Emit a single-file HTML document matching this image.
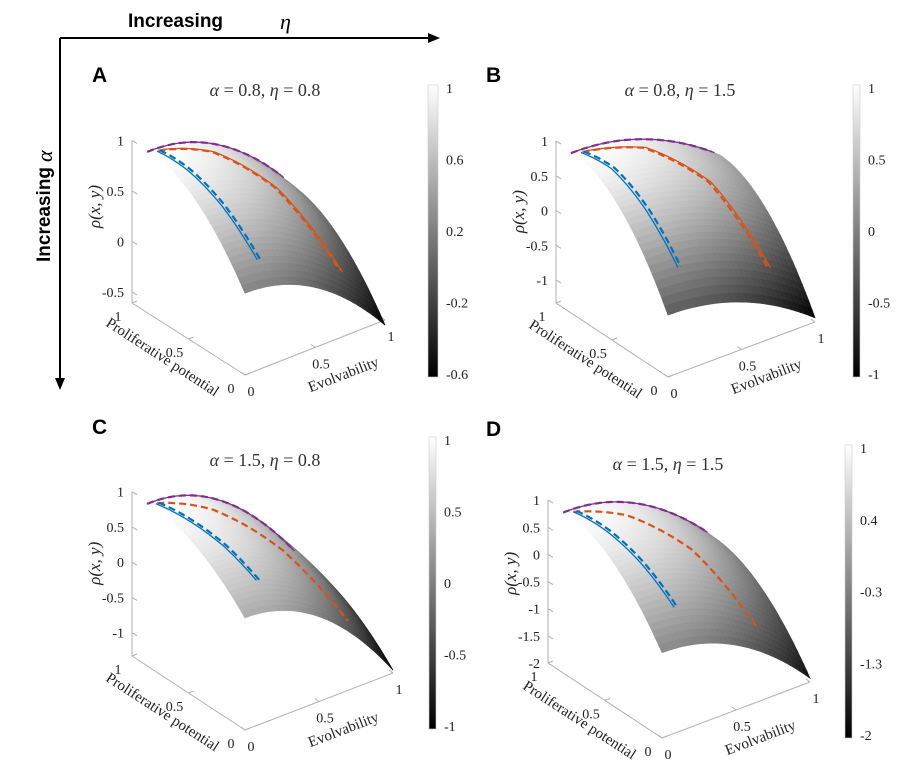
<!DOCTYPE html>
<html><head><meta charset="utf-8"><style>
body{margin:0;background:#fff;}
svg{display:block;font-family:"Liberation Serif",serif;}
</style></head><body>
<svg id="fig" width="900" height="777" viewBox="0 0 900 777">
<g>
<line x1="60" y1="38" x2="432" y2="38" stroke="#000" stroke-width="2"/>
<polygon points="440,38 428,33 428,43" fill="#000"/>
<text x="128" y="27" font-family="Liberation Sans,sans-serif" font-weight="bold" font-size="19">Increasing</text>
<text x="280" y="29" font-style="italic" font-size="22">η</text>
</g>
<g>
<line x1="60" y1="38" x2="60" y2="382" stroke="#000" stroke-width="2"/>
<polygon points="60,390 55,378 65,378" fill="#000"/>
<text transform="translate(50,262) rotate(-90)" font-family="Liberation Sans,sans-serif" font-weight="bold" font-size="19">Increasing</text>
<text transform="translate(52,162) rotate(-90)" font-style="italic" font-size="22">α</text>
</g>
</svg>
<script>
// ---- data ----
const panelLetters = ["A","B","C","D"];
const alphaVals = ["0.8","0.8","1.5","1.5"];
const etaVals = ["0.8","1.5","0.8","1.5"];
const zTicksA = [-0.5,0,0.5,1];
const zTicksB = [-1,-0.5,0,0.5,1];
const zTicksC = [-1,-0.5,0,0.5,1];
const zTicksD = [-2,-1.5,-1,-0.5,0,0.5,1];
const cbTicksA = ["1","0.6","0.2","-0.2","-0.6"];
const cbTicksB = ["1","0.5","0","-0.5","-1"];
const cbTicksC = ["1","0.5","0","-0.5","-1"];
const cbTicksD = ["1","0.4","-0.3","-1.3","-2"];
const xyTicks = [0,0.5,1];
// surface curvature (a: along evolvability, b: along proliferative)
const curvA = [0.86,0.80], curvB = [0.83,1.44], curvC = [1.55,0.74], curvD = [1.5,1.43];
// trajectories (x = evolvability, y = proliferative potential)
const purpleA = [[0,0.99],[0.3,0.99],[0.6,0.985],[0.95,0.98]];
const purpleB = [[0,0.99],[0.3,0.99],[0.6,0.985],[0.95,0.98]];
const purpleC = [[0,0.99],[0.3,0.99],[0.6,0.985],[0.97,0.98]];
const purpleD = [[0,0.99],[0.3,0.99],[0.6,0.985],[0.95,0.98]];
const blueA = [[0.03,0.96],[0.08,0.72],[0.13,0.42],[0.17,0.12]];
const blueB = [[0.03,0.96],[0.1,0.75],[0.14,0.45],[0.17,0.16]];
const blueC = [[0.02,0.96],[0.08,0.72],[0.15,0.45],[0.2,0.19]];
const blueD = [[0.03,0.96],[0.09,0.72],[0.15,0.45],[0.2,0.18]];
const orangeA = [[0.04,0.96],[0.35,0.86],[0.62,0.6],[0.78,0.15]];
const orangeB = [[0.04,0.96],[0.4,0.88],[0.66,0.6],[0.78,0.16]];
const orangeC = [[0.03,0.96],[0.3,0.8],[0.58,0.5],[0.76,0.1]];
const orangeD = [[0.03,0.96],[0.3,0.82],[0.56,0.55],[0.73,0.12]];

// ---- layout (not data) ----
const YS = 0.85;
const layout = [
 {cx:245,cy:375,ex:[140,-55],ey:[-113,-72],zs:101,zmin:-0.61,cmin:-0.66,cb:[428,85,438,377],let:[92,82],tt:[265,96],curv:curvA,zt:zTicksA,cbt:cbTicksA,pu:purpleA,bl:blueA,or:orangeA,orSolid:true},
 {cx:668,cy:377,ex:[147,-55],ey:[-112,-74],zs:69.5,zmin:-1.33,cmin:-1.27,cb:[853,85,860,377],let:[486,82],tt:[680,96],curv:curvB,zt:zTicksB,cbt:cbTicksB,pu:purpleB,bl:blueB,or:orangeB,orSolid:true},
 {cx:245,cy:730,ex:[148,-57],ey:[-113,-74],zs:70.5,zmin:-1.33,cmin:-1.29,cb:[429,437,436,729],let:[92,434],tt:[265,466],curv:curvC,zt:zTicksC,cbt:cbTicksC,pu:purpleC,bl:blueC,or:orangeC,orSolid:false},
 {cx:662,cy:738,ex:[148,-56],ey:[-114,-75],zs:54.3,zmin:-2,cmin:-2.1,cb:[845,445,852,738],let:[486,436],tt:[668,470],curv:curvD,zt:zTicksD,cbt:cbTicksD,pu:purpleD,bl:blueD,or:orangeD,orSolid:false}
];
const NS="http://www.w3.org/2000/svg";
const svg=document.getElementById('fig');
function mk(tag,attrs,parent){const e=document.createElementNS(NS,tag);for(const k in attrs)e.setAttribute(k,attrs[k]);parent.appendChild(e);return e;}
function gray(t){t=Math.max(0,Math.min(1,t));const v=Math.round(t*255);return `rgb(${v},${v},${v})`;}

layout.forEach((P,pi)=>{
 const g=mk('g',{},svg);
 
 
 const zf=(x,y)=>1-P.curv[0]*x*x-P.curv[1]*(1-y)*(1-y);
 const proj=(x,y,z)=>[P.cx+P.ex[0]*x+P.ey[0]*y, P.cy+P.ex[1]*x+P.ey[1]*y-(z-P.zmin)*P.zs];
 const sproj=(x,y,z)=>proj(x,y*YS,z);
 const col=z=>gray((z-P.cmin)/(1-P.cmin));
 // axes
 const ax=mk('g',{stroke:'#b0b0b0','stroke-width':1,fill:'none'},g);
 
 
 const c0=proj(0,0,P.zmin),c1=proj(0,1,P.zmin),c2=proj(1,0,P.zmin);
 mk('polyline',{points:`${c2} ${c0} ${c1} ${proj(0,1,P.zt[P.zt.length-1])}`},ax);
 // z ticks
 P.zt.forEach(v=>{const p=proj(0,1,v);
  mk('line',{x1:p[0],y1:p[1],x2:p[0]+5,y2:p[1]+3,stroke:'#b0b0b0'},g);
  const t=mk('text',{x:p[0]-8,y:p[1]+5,'text-anchor':'end','font-size':14,fill:'#222'},g);t.textContent=String(v);
  
  });
 xyTicks.forEach(v=>{
  const p=proj(0,v,P.zmin);mk('line',{x1:p[0],y1:p[1],x2:p[0]+5,y2:p[1]-2,stroke:'#b0b0b0'},g);
  const t=mk('text',{x:p[0]-14,y:p[1]+18,'text-anchor':'middle','font-size':14,fill:'#222'},g);t.textContent=String(v);
  
  
  const q=proj(v,0,P.zmin);mk('line',{x1:q[0],y1:q[1],x2:q[0]-4,y2:q[1]-3,stroke:'#b0b0b0'},g);
  const u=mk('text',{x:q[0]+6,y:q[1]+21,'text-anchor':'middle','font-size':14,fill:'#222'},g);u.textContent=String(v);
  
  });
 // axis labels
 const pl=mk('text',{transform:`translate(${P.cx-85},${P.cy-14}) rotate(33)`,'text-anchor':'middle','font-size':15,fill:'#222'},g);pl.textContent='Proliferative potential';
 
 
 const el=mk('text',{transform:`translate(${P.cx+100},${P.cy+4}) rotate(-21)`,'text-anchor':'middle','font-size':15,fill:'#222'},g);el.textContent='Evolvability';
 
 
 const zp=proj(0,1,(1+P.zmin)/2+0.15);
 const zl=mk('text',{transform:`translate(${zp[0]-32},${zp[1]}) rotate(-90)`,'text-anchor':'middle','font-size':17,'font-style':'italic',fill:'#222'},g);zl.textContent='ρ(x, y)';
 
 
 // surface
 const sg=mk('g',{},g);
 
 
 const N=30,cells=[];
 for(let i=0;i<N;i++)for(let j=0;j<N;j++){const x0=i/N,x1=(i+1)/N,y0=j/N,y1=(j+1)/N;cells.push([x0,x1,y0,y1,x0+y0]);}
 cells.sort((a,b)=>b[4]-a[4]);
 cells.forEach(c=>{const [x0,x1,y0,y1]=c;
  const pts=[[x0,y0],[x1,y0],[x1,y1],[x0,y1]].map(q=>sproj(q[0],q[1],zf(q[0],q[1])).map(v=>v.toFixed(1)).join(',')).join(' ');
  const cc=col(zf((x0+x1)/2,(y0+y1)/2));
  mk('polygon',{points:pts,fill:cc,stroke:cc,'stroke-width':0.7},sg);});
 // curves
 function curve(arr,color,dash,w,name){
  const pts=[];const K=40;
  for(let s=0;s<arr.length-1;s++)for(let k=0;k<K;k++){const t=k/K;const x=arr[s][0]+(arr[s+1][0]-arr[s][0])*t,y=arr[s][1]+(arr[s+1][1]-arr[s][1])*t;pts.push(sproj(x,y,zf(x,y)+0.01));}
  const L=arr[arr.length-1];pts.push(sproj(L[0],L[1],zf(L[0],L[1])+0.01));
  const p=mk('polyline',{points:pts.map(q=>q[0].toFixed(1)+','+q[1].toFixed(1)).join(' '),fill:'none',stroke:color,'stroke-width':w,'stroke-dasharray':dash||'none'},g);
  
  
 }
 const shift=(arr,d)=>arr.map(q=>[q[0]+d,q[1]]);
 curve(P.pu,'#7e2f8e','',1.3,'purple-trajectory');
 curve(shift(P.pu,-0.02),'#7e2f8e','7,4',2.2,'purple-trajectory-dashed');
 if(P.orSolid)curve(shift(P.or,0.02),'#d95319','',1.3,'orange-trajectory');
 curve(P.or,'#d95319','7,4',2.2,'orange-trajectory-dashed');
 curve(P.bl,'#0072bd','',1.3,'blue-trajectory');
 curve(shift(P.bl,0.02),'#0072bd','7,4',2.2,'blue-trajectory-dashed');
 // colorbar
 const [bx0,by0,bx1,by1]=P.cb;
 const gid='cbg'+pi;
 const defs=mk('defs',{},g);const lg=mk('linearGradient',{id:gid,x1:0,y1:0,x2:0,y2:1},defs);
 mk('stop',{offset:0,'stop-color':'#fff'},lg);mk('stop',{offset:1,'stop-color':'#000'},lg);
 const cb=mk('rect',{x:bx0,y:by0,width:bx1-bx0,height:by1-by0,fill:`url(#${gid})`,stroke:'#ccc','stroke-width':0.6},g);
 
 
 const n=P.cbt.length;
 P.cbt.forEach((s,k)=>{const y=by0+3+(by1-by0-6)*k/(n-1);
  const t=mk('text',{x:bx1+8,y:y+5,'font-size':14,fill:'#222'},g);t.textContent=s;
  
  });
 // letter and title
 const L=mk('text',{x:P.let[0],y:P.let[1],'font-family':'Liberation Sans,sans-serif','font-weight':'bold','font-size':21},g);L.textContent=panelLetters[pi];
 
 
 const T=mk('text',{x:P.tt[0],y:P.tt[1],'text-anchor':'middle','font-size':18,fill:'#333'},g);
 T.innerHTML=`<tspan font-style="italic">α</tspan> = ${alphaVals[pi]},  <tspan font-style="italic">η</tspan> = ${etaVals[pi]}`;
 
 
});
</script>
</body></html>
